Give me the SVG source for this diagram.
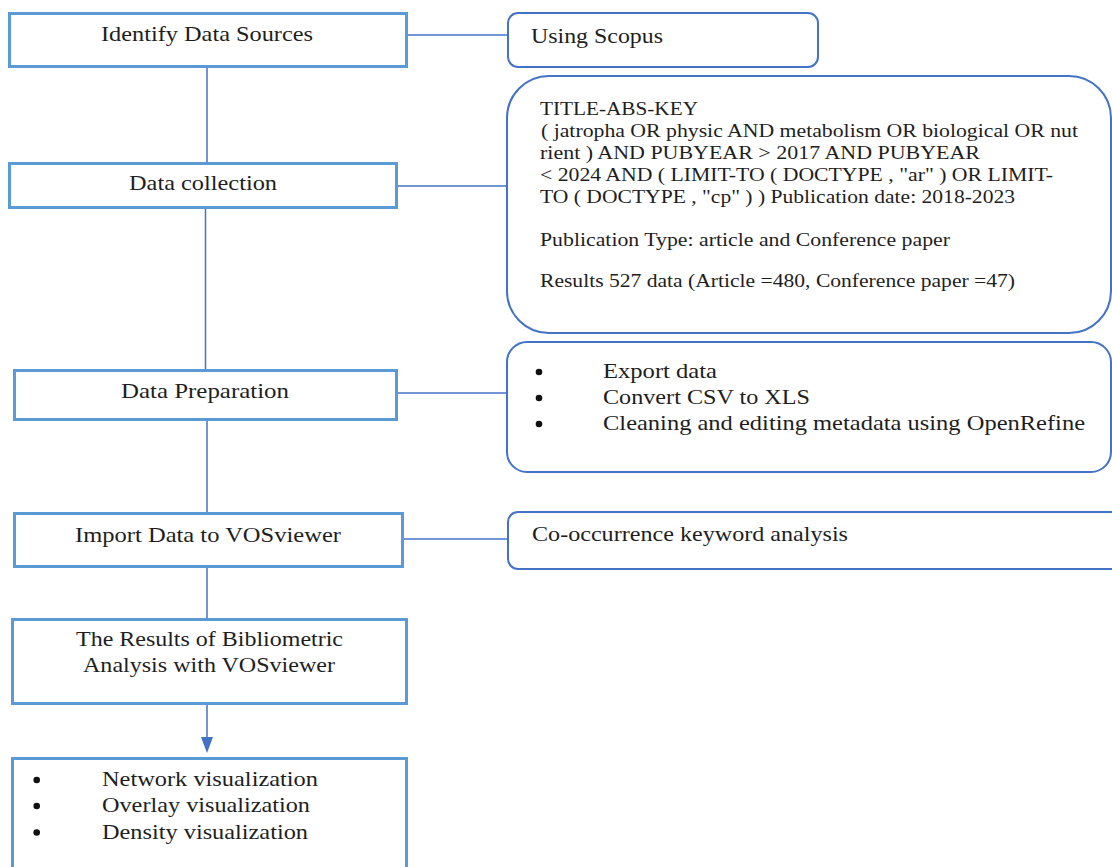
<svg xmlns="http://www.w3.org/2000/svg" width="1112" height="867" viewBox="0 0 1112 867">
  <style>
    .step { fill: #ffffff; stroke: #5b9bd5; stroke-width: 3; }
    .note { fill: #ffffff; stroke: #4472c4; stroke-width: 2; }
    .link { fill: none; stroke: #4472c4; stroke-width: 1.5; }
    .t { font-family: "Liberation Serif", "Times New Roman", serif; fill: #1e1e1e; }
    .big { font-size: 22px; }
    .mid { font-size: 21px; }
    .small { font-size: 18px; }
    .dot { fill: #111111; }
  </style>
  <defs>
    <marker id="arrow" viewBox="0 0 16 12" refX="0" refY="6" markerWidth="16" markerHeight="12" markerUnits="userSpaceOnUse" orient="auto">
      <path d="M0,0 L16,6 L0,12 Z" fill="#4472c4"/>
    </marker>
  </defs>
  <rect width="1112" height="867" fill="#ffffff"/>

  <!-- connectors -->
  <g id="connectors">
    <line class="link" x1="207" y1="67" x2="207" y2="163"/>
    <line class="link" x1="205.5" y1="208" x2="205.5" y2="370"/>
    <line class="link" x1="207" y1="420" x2="207" y2="513"/>
    <line class="link" x1="207" y1="567" x2="207" y2="619"/>
    <line class="link" x1="207" y1="704" x2="207" y2="737" marker-end="url(#arrow)"/>
    <line class="link" x1="407" y1="35" x2="508" y2="35"/>
    <line class="link" x1="397" y1="186" x2="507" y2="186"/>
    <line class="link" x1="397" y1="393" x2="507" y2="393"/>
    <line class="link" x1="403" y1="539" x2="508" y2="539"/>
  </g>

  <!-- main workflow steps -->
  <g id="identify-sources">
    <rect class="step" x="9.5" y="13.5" width="397" height="53"/>
    <text class="t big" x="101" y="41" textLength="212" lengthAdjust="spacingAndGlyphs">Identify Data Sources</text>
  </g>
  <g id="data-collection">
    <rect class="step" x="9.5" y="163.5" width="387" height="44"/>
    <text class="t big" x="129" y="190" textLength="148" lengthAdjust="spacingAndGlyphs">Data collection</text>
  </g>
  <g id="data-preparation">
    <rect class="step" x="14.5" y="370.5" width="382" height="49"/>
    <text class="t big" x="121" y="398" textLength="168" lengthAdjust="spacingAndGlyphs">Data Preparation</text>
  </g>
  <g id="import-data">
    <rect class="step" x="14.5" y="513.5" width="388" height="53"/>
    <text class="t big" x="75" y="541.5" textLength="266" lengthAdjust="spacingAndGlyphs">Import Data to VOSviewer</text>
  </g>
  <g id="results">
    <rect class="step" x="12.5" y="619.5" width="394" height="84"/>
    <text class="t big" x="76" y="646" textLength="267" lengthAdjust="spacingAndGlyphs">The Results of Bibliometric</text>
    <text class="t big" x="83" y="671.5" textLength="252" lengthAdjust="spacingAndGlyphs">Analysis with VOSviewer</text>
  </g>
  <g id="visualizations">
    <rect class="step" x="12.5" y="758.5" width="394" height="120"/>
    <circle class="dot" cx="36.7" cy="780" r="3.3"/>
    <circle class="dot" cx="36.7" cy="806" r="3.3"/>
    <circle class="dot" cx="36.7" cy="832.5" r="3.3"/>
    <text class="t big" x="102" y="786" textLength="216" lengthAdjust="spacingAndGlyphs">Network visualization</text>
    <text class="t big" x="102" y="812" textLength="208" lengthAdjust="spacingAndGlyphs">Overlay visualization</text>
    <text class="t big" x="102" y="839" textLength="206" lengthAdjust="spacingAndGlyphs">Density visualization</text>
  </g>

  <!-- detail notes -->
  <g id="note-scopus">
    <rect class="note" x="508" y="13" width="310" height="54" rx="10"/>
    <text class="t mid" x="531" y="43" textLength="132" lengthAdjust="spacingAndGlyphs">Using Scopus</text>
  </g>
  <g id="note-query">
    <rect class="note" x="507" y="76" width="604" height="257" rx="42"/>
    <text class="t small" x="540" y="114.5" textLength="158" lengthAdjust="spacingAndGlyphs">TITLE-ABS-KEY</text>
    <text class="t small" x="541" y="137" textLength="537" lengthAdjust="spacingAndGlyphs">( jatropha OR physic AND metabolism OR biological OR nut</text>
    <text class="t small" x="540" y="159" textLength="440" lengthAdjust="spacingAndGlyphs">rient ) AND PUBYEAR &gt; 2017 AND PUBYEAR</text>
    <text class="t small" x="540" y="181" textLength="513" lengthAdjust="spacingAndGlyphs">&lt; 2024 AND ( LIMIT-TO ( DOCTYPE , "ar" ) OR LIMIT-</text>
    <text class="t small" x="540" y="203" textLength="475" lengthAdjust="spacingAndGlyphs">TO ( DOCTYPE , "cp" ) ) Publication date: 2018-2023</text>
    <text class="t small" x="540" y="246" textLength="410" lengthAdjust="spacingAndGlyphs">Publication Type: article and Conference paper</text>
    <text class="t small" x="540" y="287" textLength="475" lengthAdjust="spacingAndGlyphs">Results 527 data (Article =480, Conference paper =47)</text>
  </g>
  <g id="note-preparation">
    <rect class="note" x="507" y="342" width="604" height="130" rx="20"/>
    <circle class="dot" cx="539" cy="372" r="3.3"/>
    <circle class="dot" cx="539" cy="398" r="3.3"/>
    <circle class="dot" cx="539" cy="424" r="3.3"/>
    <text class="t mid" x="603" y="378" textLength="114" lengthAdjust="spacingAndGlyphs">Export data</text>
    <text class="t mid" x="603" y="404" textLength="207" lengthAdjust="spacingAndGlyphs">Convert CSV to XLS</text>
    <text class="t mid" x="603" y="430" textLength="482" lengthAdjust="spacingAndGlyphs">Cleaning and editing metadata using OpenRefine</text>
  </g>
  <g id="note-cooccurrence">
    <rect class="note" x="508" y="512" width="620" height="57" rx="10"/>
    <text class="t mid" x="532" y="541" textLength="316" lengthAdjust="spacingAndGlyphs">Co-occurrence keyword analysis</text>
  </g>
</svg>
